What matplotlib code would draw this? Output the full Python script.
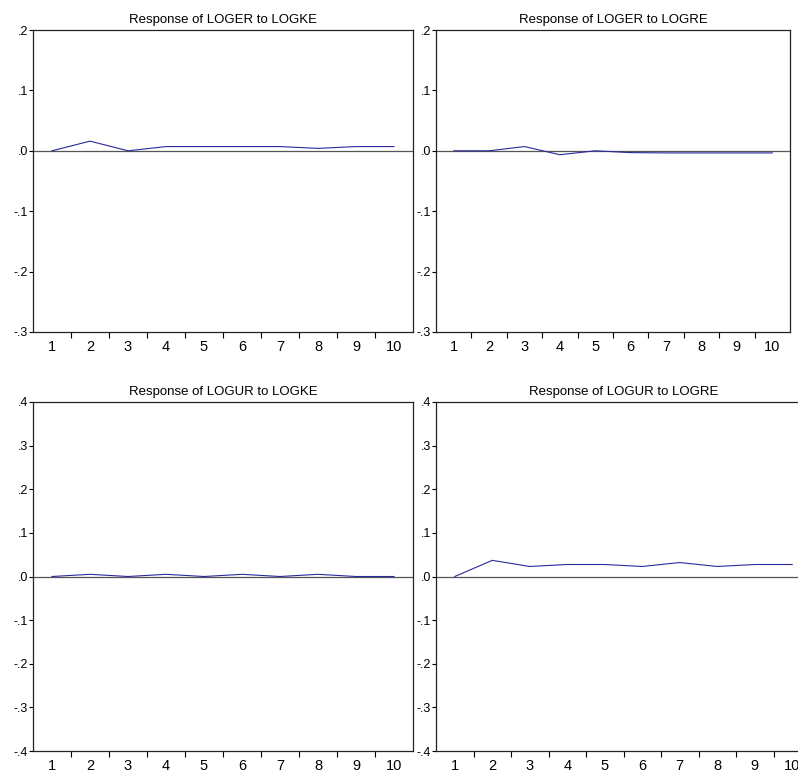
import numpy as np
import matplotlib
matplotlib.use('Agg')
import matplotlib.pyplot as plt
from matplotlib.ticker import FixedLocator, NullFormatter, FuncFormatter

plt.rcParams['font.family'] = ['Liberation Sans', 'DejaVu Sans']

# Data
periods = np.arange(1, 11)
loger_logke = [0.0, 0.016, 0.0, 0.007, 0.007, 0.007, 0.007, 0.004, 0.007, 0.007]
loger_logre = [0.0, 0.0, 0.007, -0.0065, 0.0, -0.003, -0.0035, -0.0035, -0.0035, -0.0035]
logur_logke = [0.0, 0.005, 0.0, 0.005, 0.0, 0.005, 0.0, 0.005, 0.0, 0.0]
logur_logre = [0.0, 0.037, 0.023, 0.0275, 0.0275, 0.023, 0.032, 0.023, 0.0275, 0.0275]

titles = ['Response of LOGER to LOGKE', 'Response of LOGER to LOGRE',
          'Response of LOGUR to LOGKE', 'Response of LOGUR to LOGRE']
series = [loger_logke, loger_logre, logur_logke, logur_logre]
ylims = [(-0.3, 0.2), (-0.3, 0.2), (-0.4, 0.4), (-0.4, 0.4)]

W, H = 798, 779
# axes boxes in pixels: left, top, right, bottom
boxes = [(33, 30, 413, 332), (436, 30, 790, 332),
         (33, 402, 413, 751), (436, 402, 811, 751)]

fig = plt.figure(figsize=(W / 100, H / 100), dpi=100)


def fmt(v, pos):
    s = '%.1f' % v
    if abs(v) < 1e-9:
        return '.0'
    return s.replace('0.', '.')


for box, title, vals, yl in zip(boxes, titles, series, ylims):
    l, t, r, b = box
    ax = fig.add_axes([l / W, 1 - b / H, (r - l) / W, (b - t) / H])
    ax.plot(periods, vals, color='#2a2a9c', lw=0.8)
    ax.axhline(0, color='#555555', lw=0.9, zorder=1)
    ax.set_xlim(0.5, 10.5)
    ax.set_ylim(*yl)
    ax.set_yticks(np.round(np.arange(yl[0], yl[1] + 0.001, 0.1), 1))
    ax.yaxis.set_major_formatter(FuncFormatter(fmt))
    ax.tick_params(axis='y', direction='out', length=3, width=0.8, pad=0.5,
                   labelsize=9)
    ax.xaxis.set_major_locator(FixedLocator(np.arange(1.5, 10.5, 1.0)))
    ax.xaxis.set_major_formatter(NullFormatter())
    ax.xaxis.set_minor_locator(FixedLocator(periods))
    ax.set_xticklabels([str(p) for p in periods], minor=True)
    ax.tick_params(axis='x', which='major', direction='out', length=4,
                   width=0.8)
    ax.tick_params(axis='x', which='minor', length=0, labelsize=10.5, pad=6)
    for s in ax.spines.values():
        s.set_linewidth(0.9)
        s.set_color('#222222')
    ax.set_title(title, fontsize=9.5, pad=5)

plt.savefig('out.png', dpi=100)
